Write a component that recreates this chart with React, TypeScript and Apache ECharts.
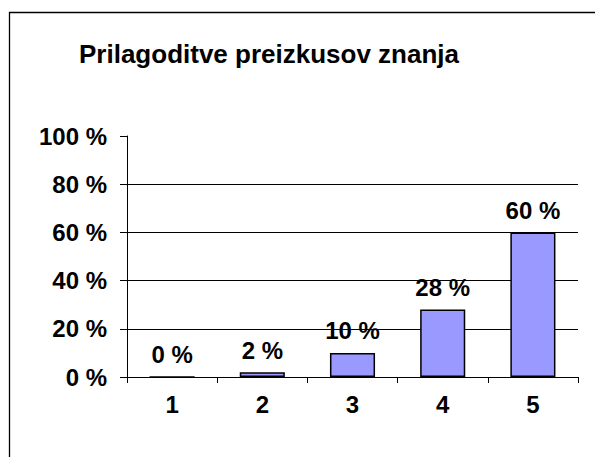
import React, { useEffect, useRef } from "react";
import * as echarts from "echarts";

const titleText = "Prilagoditve preizkusov znanja";
const categories = ["1", "2", "3", "4", "5"];
const values = [0, 2, 10, 28, 60];
const gridValues = [20, 40, 60, 80];

export default function App() {
  const ref = useRef<HTMLDivElement>(null);
  useEffect(() => {
    if (!ref.current) return;
    const chart = echarts.init(ref.current, null, { renderer: "svg" });
    const font = "Liberation Sans, Arial, sans-serif";
    chart.setOption({
      animation: false,
      backgroundColor: "#fff",
      title: {
        text: titleText,
        left: 269,
        top: 41,
        padding: 0,
        textAlign: "center",
        textStyle: { fontFamily: font, fontWeight: "bold", fontSize: 26, color: "#000" },
      },
      graphic: [
        {
          type: "rect",
          shape: { x: 9.5, y: 12.5, width: 620, height: 480 },
          style: { fill: "none", stroke: "#000", lineWidth: 1.3 },
          silent: true,
        },
      ],
      grid: { left: 127, right: 17, top: 136, bottom: 80 },
      xAxis: {
        type: "category",
        data: categories,
        axisLine: { lineStyle: { color: "#000", width: 1 } },
        axisTick: { show: true, length: 6, lineStyle: { color: "#000" }, alignWithLabel: false },
        axisLabel: { fontFamily: font, fontWeight: "bold", fontSize: 24, color: "#000", margin: 15 },
      },
      yAxis: {
        type: "value",
        min: 0,
        max: 100,
        interval: 20,
        axisLine: { show: true, lineStyle: { color: "#000", width: 1 } },
        axisTick: { show: true, length: 7, lineStyle: { color: "#000" } },
        splitLine: { show: false },
        axisLabel: {
          fontFamily: font,
          fontWeight: "bold",
          fontSize: 24,
          color: "#000",
          margin: 20,
          formatter: (v: number) => v + " %",
        },
      },
      series: [
        {
          type: "bar",
          data: values,
          barWidth: "50%",
          itemStyle: { color: "#9999FF", borderColor: "#000", borderWidth: 1.5 },
          label: {
            show: true,
            position: "top",
            distance: 10,
            fontFamily: font,
            fontWeight: "bold",
            fontSize: 24,
            color: "#000",
            formatter: (p: any) => p.value + " %",
          },
          markLine: {
            silent: true,
            symbol: "none",
            label: { show: false },
            lineStyle: { color: "#000", type: "solid", width: 1 },
            data: gridValues.map((v) => ({ yAxis: v })),
            z: 1,
          },
          z: 2,
        },
      ],
    });
    return () => chart.dispose();
  }, []);
  return (
    <div
      ref={ref}
      style={{ position: "fixed", left: 0, top: 0, width: 595, height: 457 }}
    />
  );
}
